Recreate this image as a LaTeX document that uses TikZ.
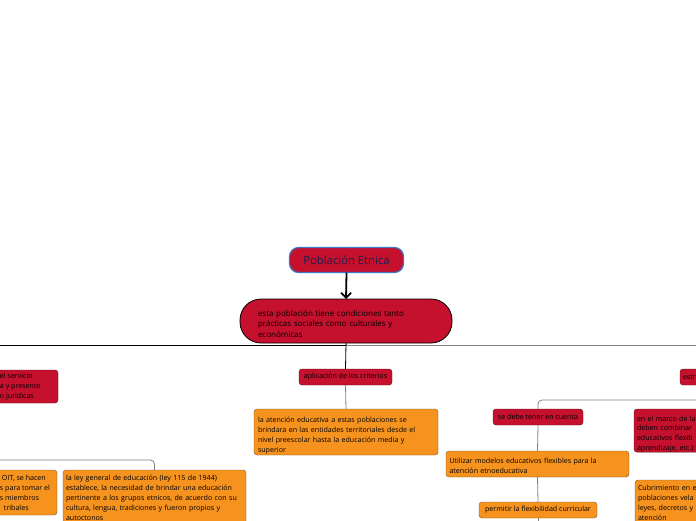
\documentclass[tikz,border=0pt]{standalone}
\usepackage{fontspec}
\setmainfont{Open Sans}
\usetikzlibrary{arrows.meta}
\definecolor{crim}{RGB}{197,16,46}
\definecolor{orng}{RGB}{246,146,30}
\definecolor{navy}{RGB}{22,32,82}
\definecolor{tborder}{RGB}{60,120,200}
\definecolor{redge}{RGB}{90,20,30}
\definecolor{oedge}{RGB}{120,90,50}
\definecolor{lgray}{RGB}{130,130,130}
\tikzset{
  every node/.style={inner sep=0pt, outer sep=0pt},
  titlebox/.style={draw=tborder, line width=1.2pt, fill=crim, rounded corners=9pt,
    minimum width=114pt, minimum height=25pt, text=navy, font=\fontsize{11.3}{13}\selectfont},
  bigbox/.style={draw=black, line width=0.8pt, fill=crim, rounded corners=21pt,
    minimum width=212pt, minimum height=44pt, align=left, text width=176pt,
    font=\fontsize{8}{10.2}\selectfont},
  redbox/.style={draw=redge, line width=0.4pt, fill=crim, rounded corners=3pt,
    inner xsep=3pt, font=\fontsize{7.1}{9.8}\selectfont},
  orbox/.style={draw=oedge, line width=0.4pt, fill=orng, rounded corners=3pt,
    inner xsep=3pt, font=\fontsize{7.1}{9.9}\selectfont},
  mainline/.style={draw=black, line width=0.8pt},
  subline/.style={draw=lgray, line width=0.8pt, rounded corners=4pt},
}
\newcommand{\tsh}{\rule{0pt}{12pt}}
\newcommand{\tsm}{\rule{0pt}{9pt}}
\begin{document}
\begin{tikzpicture}[x=1pt,y=-1pt]
\useasboundingbox (0,0) rectangle (696,520);
\clip (0,0) rectangle (696,520);
\fill[white] (0,0) rectangle (696,520);

% nodes
\node[titlebox] (t) at (346.5,260) {Población Etnica};
\node[bigbox] (n2) at (346,321) {\tsh esta población tiene condiciones tanto\\prácticas sociales como culturales y\\económicas};

\node[redbox, minimum width=93pt, minimum height=16pt] (aplic) at (345.5,377) {aplicación de los criterios};
\node[orbox, minimum width=184pt, minimum height=46pt, text width=176pt, align=left] (mid) at (346,432)
  {\tsh la atención educativa a estas poblaciones se\\brindara en las entidades territoriales desde el\\nivel preescolar hasta la educación media y\\superior};

\node[redbox, anchor=east, minimum height=33pt] (left) at (58,386.5)
  {\hspace*{70pt}\parbox[c]{55pt}{\raggedright el servicio\\a y presente\\o juridicas}};
\node[orbox, anchor=north east, minimum height=45pt] (lefto) at (57,470)
  {\hspace*{70pt}\parbox[c]{54pt}{\raggedright\hspace*{2pt}OIT, se hacen\\s para tomar el\\s miembros\\\hspace*{4pt}tribales}};
\node[orbox, anchor=north west, minimum width=183pt, minimum height=56pt, text width=177pt, align=left] (ley) at (63,470)
  {la ley general de educación (ley 115 de 1944)\\establece, la necesidad de brindar una educación\\pertinente a los grupos etnicos, de acuerdo con su\\cultura, lengua, tradiciones y fueron propios y\\autoctonos};

\node[redbox, anchor=north west, minimum height=16pt, text width=40pt, align=left] (estr) at (680,369) {estr};
\node[redbox, minimum width=90pt, minimum height=16pt] (sedebe) at (538,417) {se debe tener en cuenta};
\node[orbox, minimum width=183pt, minimum height=26pt, text width=176pt, align=left] (util) at (537.5,464)
  {\tsm Utilizar modelos educativos flexibles para la\\atención etnoeducativa};
\node[orbox, minimum width=118pt, minimum height=16pt] (perm) at (538,510) {permitir la flexibilidad curricular};
\coordinate (permend) at (538,540);

\node[redbox, anchor=north west, minimum height=43pt, text width=130pt, align=left] (marco) at (634,409)
  {\tsh en el marco de la\\deben combinar\\educativos flexib\\aprendizaje, etc.)};
\node[orbox, anchor=north west, minimum height=46pt, text width=130pt, align=left] (cubr) at (635,480)
  {Cubrimiento en e\\poblaciones vela\\leyes, decretos y\\atención};

% connectors
\draw[line width=1.8pt, -{Straight Barb[length=5pt,width=10pt]}] (t.south) -- (n2.north);
\draw[mainline] (n2.south) -- ++(0,2) -| (left.north);
\draw[subline, rounded corners=0pt] (n2.south) -- ++(0,2) -| (estr.north);
\draw[mainline] (n2.south) -- (aplic.north);
\draw[subline] (aplic.south) -- (mid.north);
\draw[subline] (left.south) -- ++(0,57) -| (ley.north);
\draw[subline] (left.south) -- ++(0,57) -| (lefto.north);
\draw[subline] (estr.south) -- ++(0,15) -| (sedebe.north);
\draw[subline] (estr.south) -- ++(0,15) -| (marco.north);
\draw[subline] (sedebe.south) -- (util.north);
\draw[subline] (util.south) -- (perm.north);
\draw[subline] (perm.south) -- (permend);
\draw[subline] (marco.south) -- (cubr.north);
\end{tikzpicture}
\end{document}
